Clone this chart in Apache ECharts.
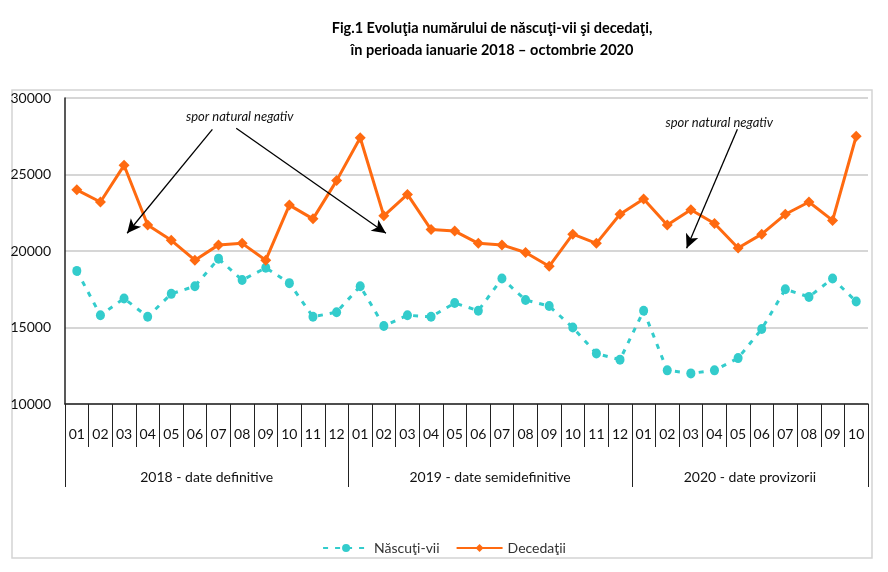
<!DOCTYPE html>
<html>
<head>
<meta charset="utf-8">
<script src="https://cdn.jsdelivr.net/npm/echarts@6/dist/echarts.min.js"></script>
<style>
html,body{margin:0;padding:0;background:#fff;}
#c{width:888px;height:572px;}
</style>
</head>
<body>
<div id="c"></div>
<script>
const months = ['01','02','03','04','05','06','07','08','09','10','11','12',
  '01','02','03','04','05','06','07','08','09','10','11','12',
  '01','02','03','04','05','06','07','08','09','10'];
const yearGroups = [
  {label: '2018 - date definitive', start: 0, count: 12},
  {label: '2019 - date semidefinitive', start: 12, count: 12},
  {label: '2020 - date provizorii', start: 24, count: 10}
];
const nascuti = [18700,15800,16900,15700,17200,17700,19500,18100,18900,17900,15700,16000,
  17700,15100,15800,15700,16600,16100,18200,16800,16400,15000,13300,12900,
  16100,12200,12000,12200,13000,14900,17500,17000,18200,16700];
const decedati = [24000,23200,25600,21700,20700,19400,20400,20500,19400,23000,22100,24600,
  27400,22300,23700,21400,21300,20500,20400,19900,19000,21100,20500,22400,
  23400,21700,22700,21800,20200,21100,22400,23200,22000,27500];
const seriesNames = ['Născuţi-vii', 'Decedaţii'];
const annotationText = 'spor natural negativ';
// annotation positions in (month-position, value) space
const annotationLabels = [[7.40, 28780], [27.70, 28390]];
const annotationArrows = [
  [[6.24, 27950], [2.63, 21160]],
  [[7.25, 28020], [13.59, 21160]],
  [[28.47, 27950], [26.32, 20180]]
];

const FONT = 'Lato, "Open Sans", sans-serif';
const boundaries = yearGroups.map(g => g.start);
const labelAt = {};
yearGroups.forEach(g => { labelAt[g.start + g.count / 2] = g.label; });

const chart = echarts.init(document.getElementById('c'), null, {renderer: 'canvas'});
chart.setOption({
  backgroundColor: '#ffffff',
  animation: false,
  title: {
    text: 'Fig.1 Evoluţia numărului de născuţi-vii şi decedaţi,\nîn perioada ianuarie 2018 – octombrie 2020',
    left: 487, top: 12, textAlign: 'center',
    textStyle: {fontFamily: FONT, fontWeight: 'bold', fontSize: 14.5, lineHeight: 22, color: '#000'}
  },
  graphic: [{
    type: 'rect', shape: {x: 12, y: 90, width: 860, height: 468},
    style: {fill: 'none', stroke: '#d4d4d4', lineWidth: 1.5}, silent: true, z: -10
  }],
  legend: {
    data: seriesNames, bottom: 12, left: 'center',
    itemWidth: 46, itemHeight: 10, itemGap: 16,
    textStyle: {fontFamily: FONT, fontSize: 14, color: '#333'}
  },
  grid: {left: 65, right: 20, top: 98, bottom: 168, containLabel: false},
  xAxis: [{
    type: 'category', data: months, boundaryGap: true,
    axisLine: {show: true, lineStyle: {color: '#222', width: 1.5}},
    axisTick: {show: true, interval: 0, length: 43, lineStyle: {color: '#222', width: 1}},
    axisLabel: {interval: 0, margin: 23, fontFamily: FONT, fontSize: 14, color: '#111'},
    splitLine: {show: false}
  }, {
    type: 'category', data: months, boundaryGap: true, position: 'bottom',
    axisLine: {show: false},
    axisTick: {show: true, interval: (i) => boundaries.indexOf(i) >= 0, length: 83, lineStyle: {color: '#222', width: 1}},
    axisLabel: {show: false}
  }, {
    type: 'value', min: 0, max: 34, interval: 1, position: 'bottom',
    axisLine: {show: false}, axisTick: {show: false}, splitLine: {show: false},
    axisLabel: {
      show: true, margin: 66, fontFamily: FONT, fontSize: 14, color: '#111',
      formatter: (v) => labelAt[v] || ''
    }
  }],
  yAxis: {
    type: 'value', min: 10000, max: 30000, interval: 5000,
    axisLine: {show: true, lineStyle: {color: '#222', width: 1.5}},
    axisTick: {show: false},
    axisLabel: {fontFamily: FONT, fontSize: 14, color: '#111', margin: 14, formatter: (v) => String(v)},
    splitLine: {lineStyle: {color: '#c8c8c8', width: 1.5}}
  },
  series: [{
    name: seriesNames[0], type: 'line', data: nascuti, xAxisIndex: 0,
    symbol: 'circle', symbolSize: [9, 10],
    lineStyle: {color: '#33CCCC', width: 3, type: [5, 7]},
    itemStyle: {color: '#33CCCC'}
  }, {
    name: seriesNames[1], type: 'line', data: decedati, xAxisIndex: 0,
    symbol: 'diamond', symbolSize: 11,
    lineStyle: {color: '#FF6A10', width: 3},
    itemStyle: {color: '#FF6A10'}
  }, {
    name: 'annot', type: 'line', xAxisIndex: 2, data: [], silent: true,
    markLine: {
      silent: true, symbol: ['none', 'arrow'], symbolSize: [10, 14],
      label: {show: false},
      lineStyle: {color: '#000', width: 1.3, type: 'solid'},
      data: annotationArrows.map(a => [{coord: a[0]}, {coord: a[1]}])
    },
    markPoint: {
      silent: true, symbol: 'circle', symbolSize: 0,
      label: {show: true, position: 'inside', formatter: annotationText,
        fontFamily: FONT, fontStyle: 'italic', fontSize: 13, color: '#111'},
      data: annotationLabels.map(p => ({coord: p}))
    }
  }]
});
</script>
</body>
</html>
